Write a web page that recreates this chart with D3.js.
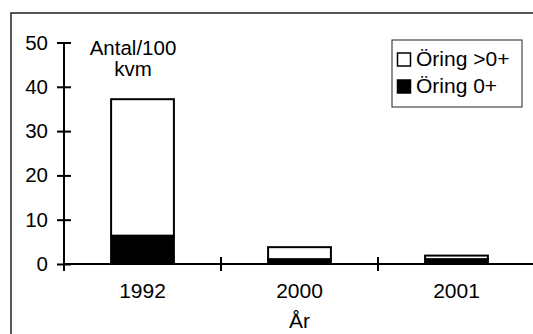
<!DOCTYPE html>
<html><head><meta charset="utf-8">
<script src="https://cdn.jsdelivr.net/npm/d3@7"></script>
<style>body{margin:0;background:#fff;}svg{display:block;font-family:Arial,"Liberation Sans",sans-serif;}</style>
</head><body>
<script>
const categories = ["1992", "2000", "2001"];
const young = [6.4, 1.1, 1.1];      // Öring 0+
const older = [30.8, 2.7, 0.8];     // Öring >0+
const yTicks = [0, 10, 20, 30, 40, 50];
const seriesNames = ["Öring >0+", "Öring 0+"];

const W = 533, H = 334;
const svg = d3.select("body").append("svg").attr("width", W).attr("height", H);

// outer frame (extends beyond the image on right and bottom)
svg.append("rect").attr("x", 11).attr("y", 13).attr("width", 540).attr("height", 340)
  .attr("fill", "none").attr("stroke", "#222").attr("stroke-width", 1.5);

const x = d3.scaleBand().domain(categories).range([64, 535]).paddingInner(0.6).paddingOuter(0.3);
const y = d3.scaleLinear().domain([0, 50]).range([264, 42.5]);

const data = categories.map((c, i) => ({cat: c, young: young[i], older: older[i]}));
const stack = d3.stack().keys(["young", "older"])(data);

const fills = {young: "#000", older: "#fff"};
stack.forEach(layer => {
  svg.append("g").selectAll("rect").data(layer).join("rect")
    .attr("x", d => x(d.data.cat))
    .attr("width", x.bandwidth())
    .attr("y", d => y(d[1]))
    .attr("height", d => y(d[0]) - y(d[1]))
    .attr("fill", fills[layer.key])
    .attr("stroke", "#000").attr("stroke-width", 2);
});

// y axis
const ya = svg.append("g").attr("transform", "translate(64,0)")
  .call(d3.axisLeft(y).tickValues(yTicks).tickSize(7).tickPadding(9).tickFormat(d3.format("d")));
ya.select(".domain").attr("d", `M0,${y(50)}V${y(0) + 7}`).attr("stroke", "#000").attr("stroke-width", 2);
ya.selectAll(".tick line").attr("x1", 7).attr("stroke-width", 2);
ya.selectAll(".tick text").attr("font-size", 20.5).attr("fill", "#000").attr("font-family", "Arial, 'Liberation Sans', sans-serif");

// x axis
const xa = svg.append("g").attr("transform", `translate(0,${y(0)})`)
  .call(d3.axisBottom(x).tickSize(0).tickPadding(19));
xa.select(".domain").attr("d", `M64,0H540`).attr("stroke", "#000").attr("stroke-width", 2);
xa.selectAll(".tick text").attr("font-size", 21).attr("fill", "#000").attr("font-family", "Arial, 'Liberation Sans', sans-serif");
const step = x.step();
const bounds = categories.slice(1).map(c => x(c) - x.paddingOuter() * step);
xa.selectAll(".sep").data(bounds).join("line").attr("class", "sep")
  .attr("x1", d => d).attr("x2", d => d).attr("y1", -7).attr("y2", 7)
  .attr("stroke", "#000").attr("stroke-width", 2);

// axis titles
svg.append("text").attr("x", 133).attr("y", 55).attr("text-anchor", "middle").attr("font-size", 20.5).text("Antal/100");
svg.append("text").attr("x", 133).attr("y", 76).attr("text-anchor", "middle").attr("font-size", 20.5).text("kvm");
svg.append("text").attr("x", x("2000") + x.bandwidth() / 2).attr("y", 328).attr("text-anchor", "middle").attr("font-size", 21).text("År");

// legend
const lg = svg.append("g");
lg.append("rect").attr("x", 392).attr("y", 40).attr("width", 130).attr("height", 67)
  .attr("fill", "#fff").attr("stroke", "#222").attr("stroke-width", 1);
const legendFills = ["#fff", "#000"];
seriesNames.forEach((n, i) => {
  const cy = 59 + i * 27;
  lg.append("rect").attr("x", 397.5).attr("y", cy - 6).attr("width", 13).attr("height", 13)
    .attr("fill", legendFills[i]).attr("stroke", "#000").attr("stroke-width", 1.5);
  lg.append("text").attr("x", 416).attr("y", cy + 7).attr("font-size", 21).text(n);
});
</script>
</body></html>
